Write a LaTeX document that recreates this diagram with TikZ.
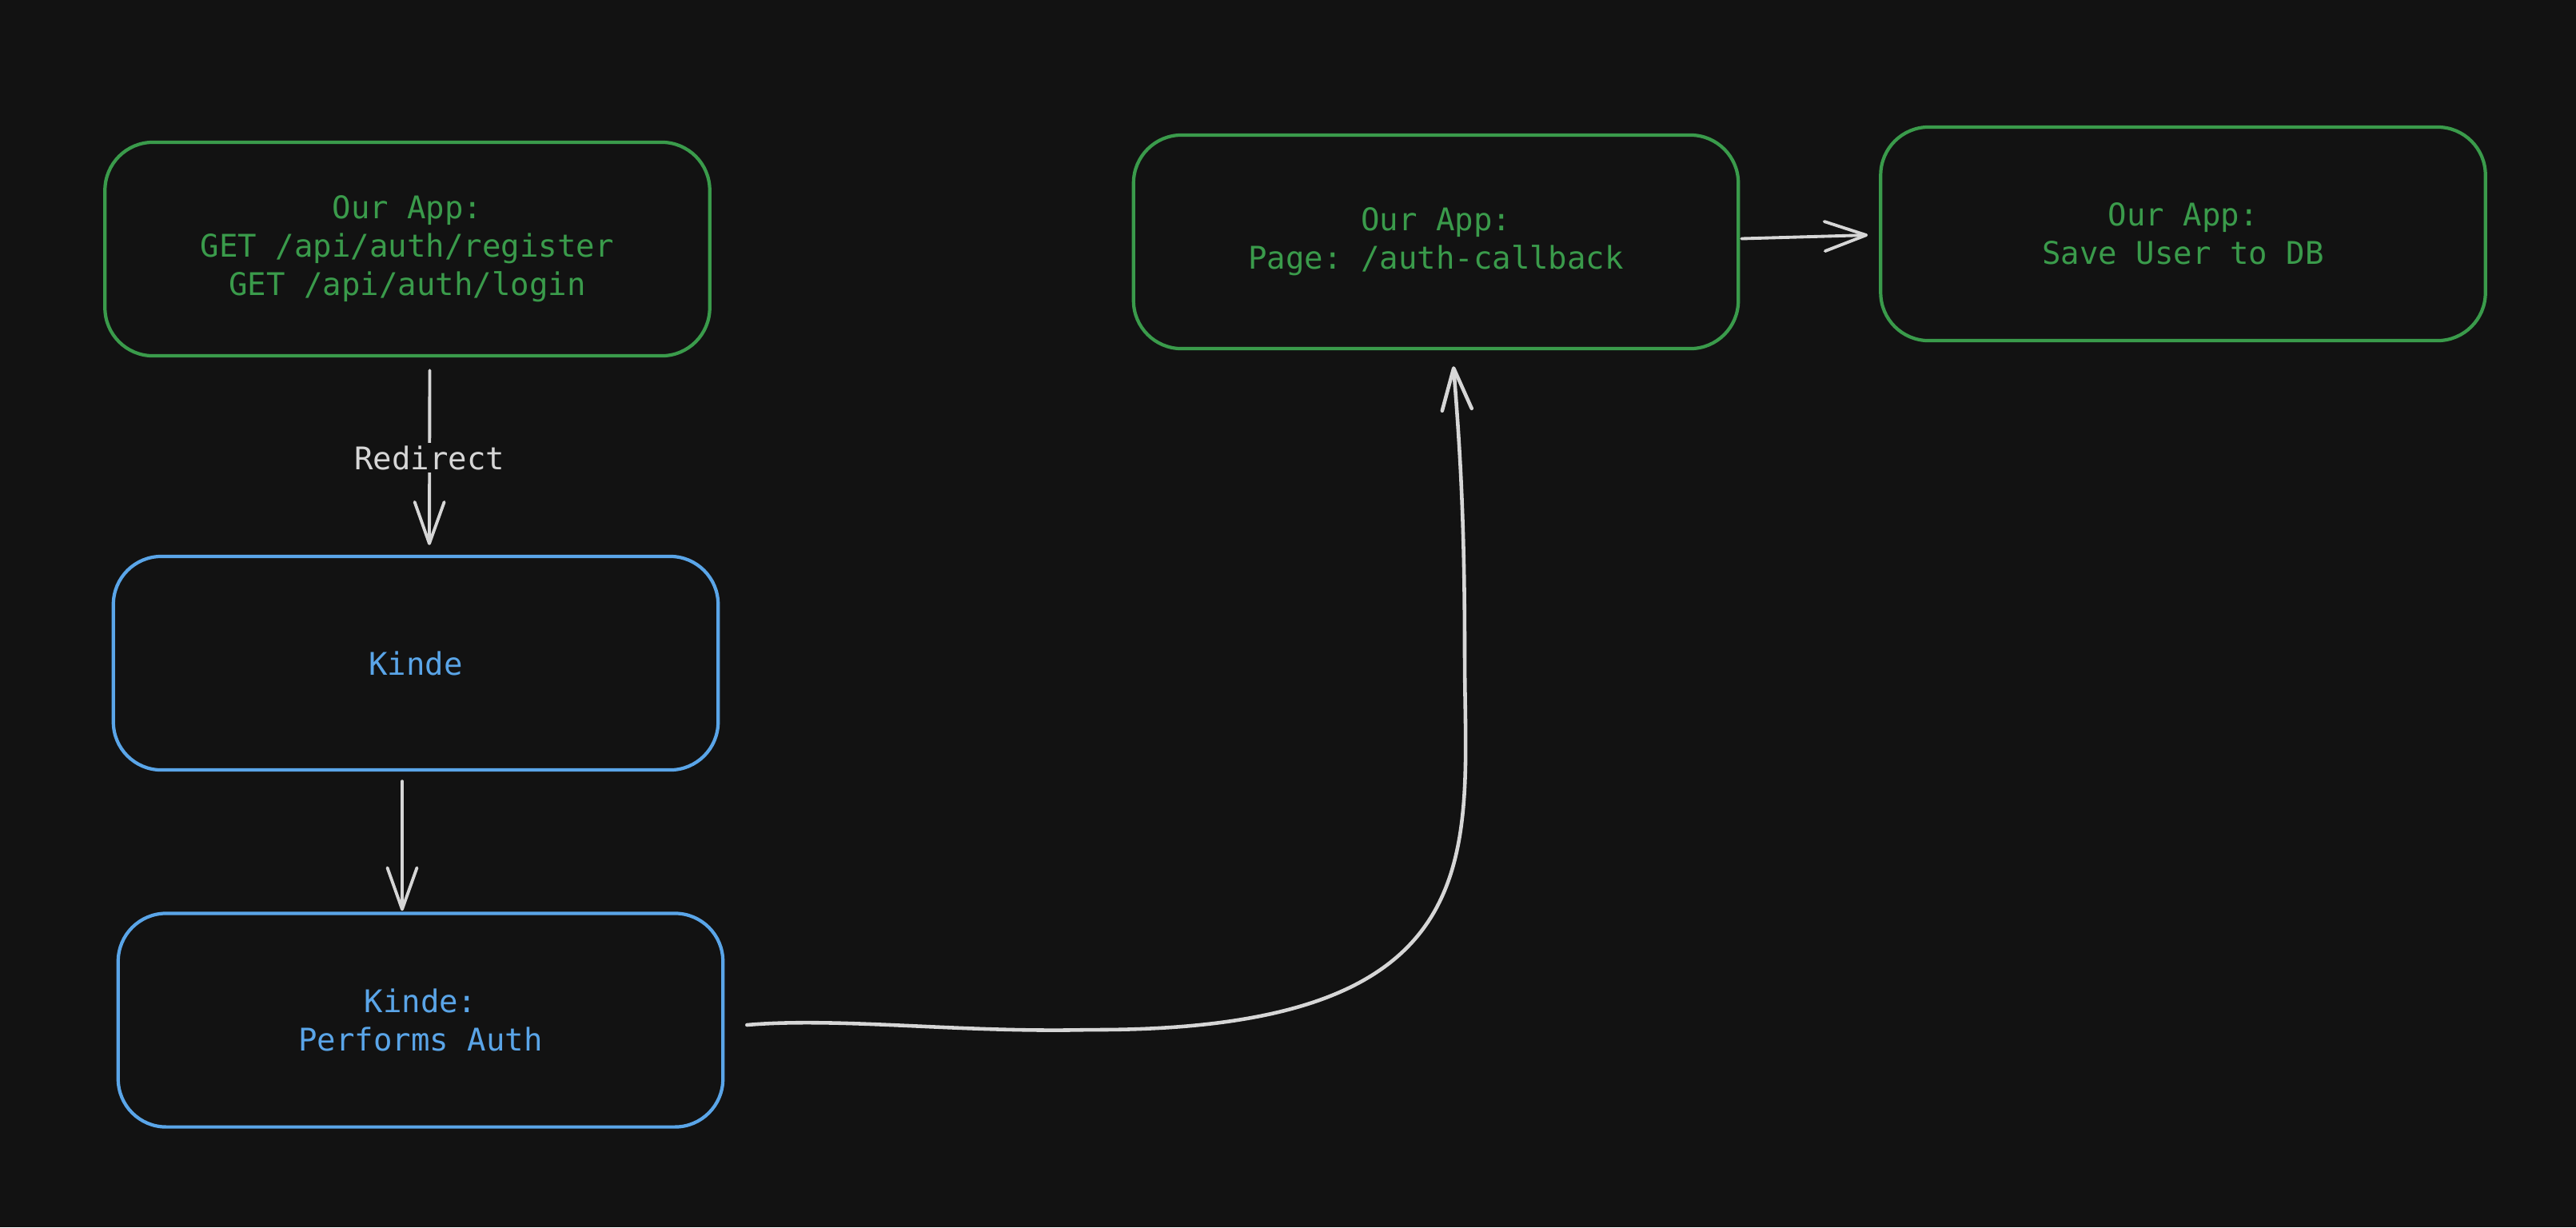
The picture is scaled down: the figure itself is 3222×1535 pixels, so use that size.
\documentclass[tikz,border=0pt]{standalone}
\usepackage{fontspec}
\setmonofont{DejaVu Sans Mono}
\usetikzlibrary{arrows.meta,calc}
\definecolor{bg}{RGB}{18,18,18}
\definecolor{appgreen}{RGB}{58,155,75}
\definecolor{kblue}{RGB}{90,165,232}
\definecolor{arrgray}{RGB}{214,214,214}
\begin{document}
\begin{tikzpicture}[x=0.01cm,y=-0.01cm,
  box/.style={draw, rounded corners=0.6cm, minimum width=7.56cm, minimum height=2.67cm,
    line width=1.2pt, align=center, inner sep=0pt,
    font=\ttfamily\fontsize{11.1}{13.66}\selectfont},
  gbox/.style={box, draw=appgreen, text=appgreen},
  bbox/.style={box, draw=kblue, text=kblue},
  arr/.style={draw=arrgray, line width=1.1pt, line cap=round, line join=round,
    -{Straight Barb[length=0.52cm,width=0.37cm,line cap=round,line join=round]}},
  lbl/.style={fill=bg, text=arrgray, inner xsep=2pt, inner ysep=1pt,
    font=\ttfamily\fontsize{11.1}{13.66}\selectfont}
]
\fill[bg] (0,0) rectangle (3222,1535);
\useasboundingbox (0,0) rectangle (3222,1535);

\node[gbox] (app) at (509.5,311.5) {Our App:\\GET /api/auth/register\\GET /api/auth/login};
\node[bbox] (kinde) at (520,829.5) {Kinde};
\node[bbox] (perf) at (526,1276) {Kinde:\\Performs Auth};
\node[gbox] (cb) at (1796,302.5) {Our App:\\Page: /auth-callback};
\node[gbox] (save) at (2730.5,292.5) {Our App:\\Save User to DB};

\draw[arr] ($(app.south)+(28,16)$) -- node[lbl]{Redirect} ($(kinde.north)+(17,-12)$);
\draw[arr] ($(kinde.south)+(-17,12)$) -- ($(perf.north)+(-23,-1)$);
\draw[arr] ($(cb.east)+(2,-4)$) -- ($(save.west)+(-14,1.5)$);

\coordinate (cs) at ($(perf.east)+(28,6)$);
\coordinate (ce) at ($(cb.south)+(22,20)$);
\draw[arr, line width=1.3pt] (cs) .. controls (1050,1272) and (1200,1292) .. (1363,1288)
  .. controls (1880,1290) and (1832,1060) .. (1832,820)
  .. controls (1832,650) and (1826,560) .. (ce);
\end{tikzpicture}
\end{document}
